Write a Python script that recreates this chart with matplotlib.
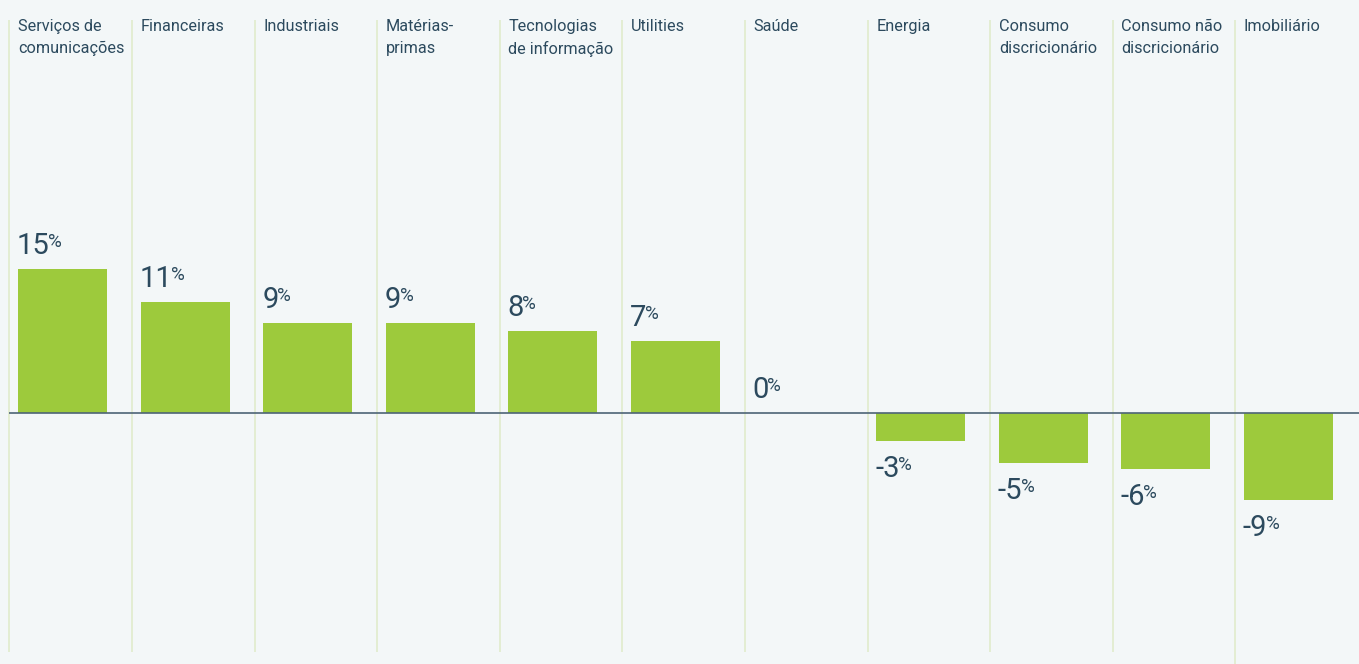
import matplotlib
matplotlib.use("Agg")
import matplotlib.pyplot as plt
from matplotlib.transforms import blended_transform_factory

# ---- data ----
categories = [
    "Serviços de\ncomunicações", "Financeiras", "Industriais", "Matérias-\nprimas",
    "Tecnologias\nde informação", "Utilities", "Saúde", "Energia",
    "Consumo\ndiscricionário", "Consumo não\ndiscricionário", "Imobiliário",
]
values = [14.7, 11.4, 9.2, 9.2, 8.4, 7.4, 0.0, -2.9, -5.2, -5.8, -9.0]

# ---- style ----
BG = "#f3f7f8"
GREEN = "#9dca3c"
TEXT = "#2c4a5e"
GRID = "#e2ecd0"
BASE = "#4d6476"
FONT = ["Roboto", "DejaVu Sans"]

W, H, DPI = 1359, 664, 100
fig = plt.figure(figsize=(W / DPI, H / DPI), dpi=DPI)
fig.patch.set_facecolor(BG)
ax = fig.add_axes([0, 0, 1, 1])
ax.set_facecolor(BG)
ax.axis("off")

col_px = 122.6      # column width in px
x0_px = 9.5         # first column line
xmin = -x0_px / col_px
xmax = xmin + W / col_px
ax.set_xlim(xmin, xmax)

ppv = 9.75          # px per percentage point
base_px = 412.7     # zero line from top
ymax = base_px / ppv
ymin = -(H - base_px) / ppv
ax.set_ylim(ymin, ymax)

n = len(categories)
xs = list(range(n))
line_top = (base_px - 20) / ppv
line_bot = -(652 - base_px) / ppv
for i in xs:
    bot = ymin if i == n - 1 else line_bot
    ax.vlines(i, bot, line_top, color=GRID, lw=1.3, zorder=1)

bar_off = 8.5 / col_px
bar_w = 89 / col_px
ax.bar([x + bar_off for x in xs], values, width=bar_w, align="edge",
       color=GREEN, zorder=2, linewidth=0)

ax.hlines(0, 0, xmax, color=BASE, lw=1.2, zorder=3)

trans = blended_transform_factory(ax.transData, ax.transAxes)
for i, cat in zip(xs, categories):
    ax.annotate(cat, xy=(i, 1), xycoords=trans, xytext=(8.5, -19),
                textcoords="offset pixels", ha="left", va="top",
                fontsize=11.7, color=TEXT, family=FONT, linespacing=1.55)

for i, v in zip(xs, values):
    label = f"{round(v):d}"
    if v >= 0:
        t = ax.annotate(label, xy=(i + bar_off, v), xytext=(-1, 15),
                        textcoords="offset pixels", ha="left", va="baseline",
                        fontsize=21, color=TEXT, family=FONT)
    else:
        t = ax.annotate(label, xy=(i + bar_off, v), xytext=(-1, -14),
                        textcoords="offset pixels", ha="left", va="top",
                        fontsize=21, color=TEXT, family=FONT)
    ax.annotate("%", xy=(1, 1), xycoords=t, xytext=(-1.5, -1),
                textcoords="offset pixels", ha="left", va="top",
                fontsize=13.5, color=TEXT, family=FONT)

fig.savefig("out.png", dpi=DPI, facecolor=BG)
